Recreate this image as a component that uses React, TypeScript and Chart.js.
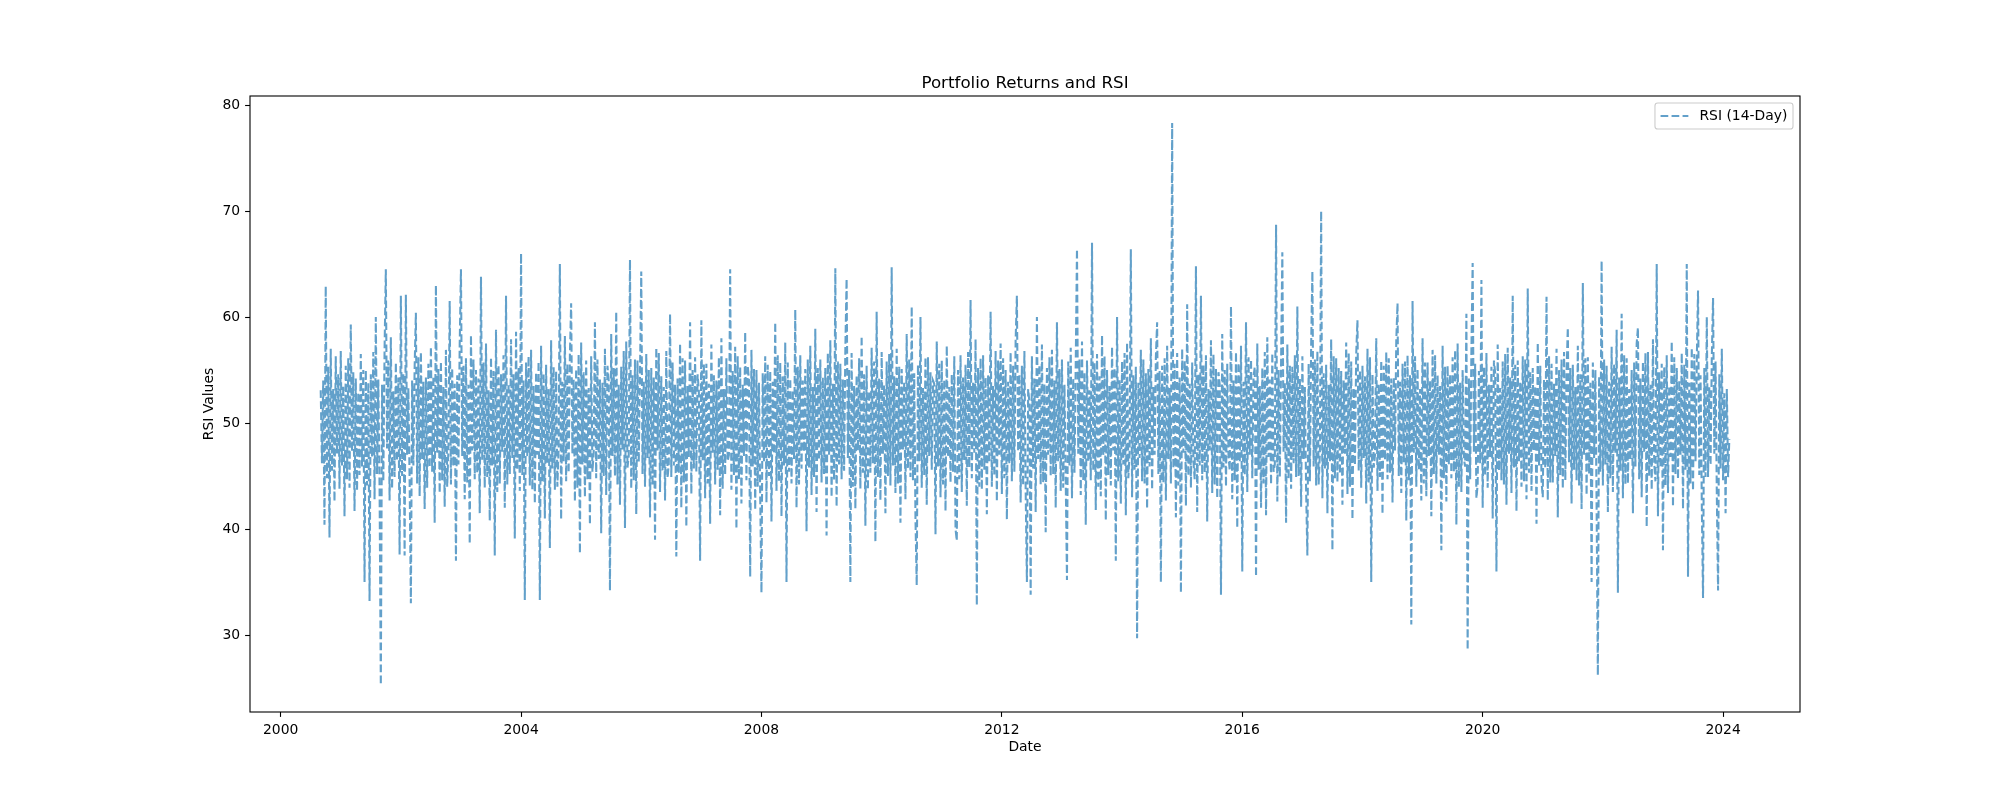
import { useEffect, useRef } from "react"
import { Chart, registerables } from "chart.js"

Chart.register(...registerables)

const chartTitle = "Portfolio Returns and RSI"
const seriesLabel = "RSI (14-Day)"
const xTitle = "Date"
const yTitle = "RSI Values"

const xTicks = [2000, 2004, 2008, 2012, 2016, 2020, 2024]
const yTicks = [30, 40, 50, 60, 70, 80]

// first reading is early Sept 2000, then about one reading per week
const startYear = 2000 + 8 / 12
const pointsPerYear = 48

const rsiValues = [
  // 2000 (Sep-Dec)
  53.1, 46.2, 54.0, 40.4, 62.9, 44.8, 55.3, 39.2, 57.0, 45.5, 53.2, 42.6, 56.3, 47.1, 54.6, 43.8,
  // 2001
  56.8, 46.0, 53.5, 41.2, 55.4, 44.7, 56.1, 43.9, 59.3, 47.3, 54.8, 41.7, 54.2, 43.6, 52.9, 45.1,
  56.5, 45.9, 55.0, 35.0, 55.0, 44.1, 53.8, 33.2, 54.6, 46.8, 56.7, 42.8, 60.0, 45.2, 54.1, 44.0,
  25.3, 53.6, 44.5, 57.0, 64.5, 47.6, 55.9, 42.7, 58.1, 43.8, 53.0, 44.9, 55.7, 46.4, 54.3, 37.6,
  // 2002
  62.0, 45.0, 54.7, 37.5, 62.1, 47.0, 53.3, 44.6, 33.0, 54.0, 46.0, 55.2, 60.4, 44.3, 56.2, 43.1,
  56.7, 46.6, 53.9, 41.9, 54.3, 43.9, 55.6, 45.8, 57.2, 45.4, 54.4, 40.6, 63.0, 47.2, 55.1, 43.4,
  55.8, 44.6, 53.4, 42.1, 56.9, 44.0, 47.5, 61.5, 44.2, 55.2, 45.9, 53.7, 37.0, 54.5, 46.1, 57.4,
  // 2003
  64.5, 46.9, 55.4, 42.8, 56.1, 44.4, 53.6, 38.6, 58.3, 47.4, 56.0, 44.7, 55.0, 45.3, 54.2, 41.5,
  63.8, 46.5, 55.7, 43.9, 57.5, 44.9, 53.1, 40.8, 56.2, 46.0, 54.9, 37.5, 58.8, 43.5, 55.5, 44.3,
  54.6, 47.3, 56.4, 42.0, 62.0, 44.2, 53.7, 45.2, 57.9, 46.7, 54.6, 39.1, 58.6, 45.6, 55.2, 43.6,
  // 2004
  66.0, 45.1, 54.0, 33.3, 55.7, 46.8, 56.3, 44.1, 56.9, 43.7, 53.5, 42.4, 54.8, 47.0, 55.8, 33.3,
  57.3, 44.5, 54.7, 41.0, 55.5, 46.2, 53.2, 38.2, 57.8, 45.7, 55.3, 43.7, 54.9, 44.0, 47.6, 65.0,
  40.9, 53.9, 46.4, 58.2, 44.5, 55.6, 45.3, 56.4, 61.3, 47.1, 54.1, 42.6, 55.1, 43.9, 56.5, 37.7,
  // 2005
  57.6, 46.1, 54.8, 43.0, 55.9, 44.7, 53.3, 40.4, 56.3, 45.4, 47.2, 59.5, 44.8, 56.0, 46.6, 54.1,
  39.6, 53.8, 45.0, 57.0, 43.2, 55.4, 54.0, 34.2, 58.4, 46.9, 55.2, 45.0, 60.5, 44.2, 53.6, 42.3,
  55.3, 47.5, 56.8, 40.1, 57.7, 45.8, 46.9, 65.4, 43.8, 54.5, 44.6, 56.0, 41.4, 55.9, 46.3, 54.7,
  // 2006
  64.3, 45.2, 53.9, 44.0, 56.5, 46.7, 55.0, 41.1, 55.2, 44.1, 54.3, 39.0, 57.1, 47.4, 56.6, 43.5,
  54.4, 45.5, 53.4, 42.7, 56.8, 44.8, 46.2, 60.3, 44.9, 55.7, 46.0, 53.6, 37.4, 54.2, 45.3, 57.5,
  42.0, 56.1, 44.4, 55.9, 40.2, 53.5, 46.8, 59.5, 43.3, 55.0, 45.7, 56.2, 45.4, 54.6, 53.0, 37.0,
  // 2007
  59.7, 46.5, 55.6, 42.9, 55.6, 44.3, 53.7, 40.5, 57.4, 47.2, 54.5, 44.2, 54.0, 45.6, 56.2, 41.3,
  58.0, 43.8, 53.2, 45.1, 56.1, 46.4, 47.0, 64.5, 43.7, 54.9, 45.1, 57.2, 40.0, 56.3, 44.7, 55.3,
  42.4, 53.6, 46.9, 58.6, 44.6, 55.4, 54.1, 35.5, 56.9, 45.9, 55.1, 41.8, 55.0, 44.0, 53.8, 43.1,
  // 2008
  34.0, 54.7, 46.3, 56.3, 42.5, 55.5, 45.0, 54.9, 40.7, 53.9, 47.1, 59.5, 43.6, 56.4, 44.5, 55.7,
  41.2, 54.4, 46.0, 57.6, 35.0, 55.7, 45.4, 54.2, 44.3, 53.1, 46.6, 60.7, 42.0, 55.3, 44.2, 56.4,
  45.7, 54.0, 47.3, 55.1, 39.8, 56.0, 45.8, 57.3, 43.2, 53.4, 44.9, 58.9, 41.6, 55.2, 46.5, 56.0,
  // 2009
  44.4, 54.3, 45.2, 55.2, 39.4, 56.6, 47.0, 57.8, 43.0, 53.7, 44.6, 64.6, 42.1, 55.8, 46.1, 55.6,
  44.7, 54.1, 45.5, 57.0, 63.6, 46.7, 55.0, 35.0, 56.6, 44.0, 53.5, 41.9, 54.5, 47.4, 56.1, 43.8,
  58.2, 45.3, 54.6, 40.3, 55.4, 43.7, 53.0, 45.3, 57.1, 46.2, 55.8, 38.8, 60.5, 44.9, 54.2, 42.7,
  // 2010
  56.7, 47.1, 53.6, 41.5, 55.8, 45.0, 56.5, 44.1, 64.7, 46.0, 54.4, 43.4, 57.0, 44.3, 55.3, 40.6,
  55.1, 47.5, 53.9, 42.8, 58.4, 45.7, 56.0, 44.9, 61.0, 44.6, 54.7, 41.0, 34.7, 55.5, 46.4, 60.0,
  43.9, 53.3, 45.1, 56.2, 42.3, 56.2, 46.9, 54.8, 45.6, 54.0, 53.7, 39.5, 57.7, 45.9, 55.6, 43.0,
  // 2011
  55.9, 44.2, 54.1, 41.7, 57.3, 46.8, 53.4, 44.4, 54.6, 45.4, 56.3, 40.0, 38.9, 55.0, 44.7, 56.4,
  43.5, 54.3, 46.5, 55.5, 42.2, 56.7, 45.8, 61.6, 44.8, 53.8, 47.2, 57.9, 32.8, 55.2, 44.0, 56.1,
  43.7, 56.4, 45.6, 54.3, 41.4, 54.5, 46.3, 60.5, 44.0, 53.5, 45.0, 56.8, 42.6, 55.9, 47.0, 57.5,
  // 2012
  43.3, 56.1, 44.8, 55.0, 40.9, 53.9, 46.2, 56.7, 44.5, 55.4, 45.4, 57.8, 62.0, 47.3, 54.6, 42.5,
  55.4, 44.1, 56.8, 43.8, 35.0, 53.2, 52.0, 33.8, 56.3, 45.7, 54.2, 41.6, 60.0, 46.6, 55.5, 44.2,
  57.4, 44.4, 53.7, 39.7, 55.2, 47.0, 56.2, 45.0, 56.9, 45.2, 54.0, 42.0, 59.5, 46.4, 55.1, 43.6,
  // 2013
  56.0, 43.9, 53.6, 44.7, 35.2, 55.8, 46.0, 57.1, 42.9, 54.2, 45.3, 55.6, 66.4, 47.1, 56.0, 43.2,
  57.7, 44.6, 54.8, 40.4, 55.9, 46.3, 53.1, 44.6, 67.0, 45.5, 55.7, 41.8, 56.5, 44.0, 54.4, 43.1,
  58.3, 46.9, 56.3, 40.8, 55.0, 45.1, 53.5, 44.1, 57.2, 47.4, 55.2, 37.0, 60.0, 44.5, 54.1, 42.4,
  // 2014
  55.8, 46.1, 56.6, 41.3, 57.6, 44.8, 47.1, 66.4, 43.0, 54.5, 45.6, 55.3, 29.7, 53.8, 46.7, 56.9,
  44.5, 56.0, 44.3, 54.7, 41.9, 55.1, 45.9, 58.0, 43.7, 53.4, 47.0, 56.2, 59.5, 45.2, 54.9, 35.0,
  55.4, 44.4, 56.1, 42.7, 57.3, 46.6, 53.3, 44.3, 78.3, 45.7, 55.6, 41.1, 56.6, 44.1, 54.3, 34.0,
  // 2015
  57.0, 47.2, 55.9, 42.2, 61.2, 45.0, 53.7, 43.9, 55.7, 46.4, 44.7, 64.8, 41.6, 54.6, 46.0, 62.0,
  44.6, 55.5, 45.3, 56.4, 40.7, 53.2, 47.4, 57.8, 43.4, 56.5, 44.2, 55.1, 42.9, 54.8, 53.6, 33.8,
  58.4, 45.8, 55.0, 44.0, 55.6, 46.9, 45.5, 61.0, 42.8, 54.0, 44.6, 56.7, 40.1, 55.7, 46.3, 57.3,
  // 2016
  36.0, 53.9, 45.1, 59.5, 43.5, 56.2, 47.0, 56.0, 44.8, 54.4, 55.3, 35.5, 57.5, 45.6, 53.5, 42.0,
  55.2, 44.3, 56.7, 41.3, 58.1, 46.8, 54.1, 44.2, 56.6, 45.4, 46.1, 68.7, 42.6, 55.0, 44.9, 55.7,
  66.1, 47.3, 53.8, 40.6, 57.4, 44.7, 55.4, 43.8, 55.3, 46.2, 56.4, 44.9, 61.0, 45.0, 54.2, 42.1,
  // 2017
  56.3, 46.6, 53.4, 43.7, 37.5, 55.6, 44.5, 57.2, 64.3, 45.9, 56.0, 44.1, 56.8, 44.2, 47.2, 70.0,
  42.9, 54.7, 45.7, 55.5, 41.5, 53.6, 46.4, 57.9, 38.0, 56.3, 44.8, 56.1, 44.4, 55.2, 45.2, 54.9,
  42.3, 54.0, 47.1, 57.6, 43.3, 56.6, 44.0, 55.8, 40.9, 53.3, 46.0, 56.5, 59.7, 45.5, 55.0, 43.9,
  // 2018
  55.4, 46.7, 54.4, 42.4, 57.0, 44.4, 56.2, 35.0, 54.6, 45.8, 47.0, 58.0, 43.6, 53.7, 44.9, 55.9,
  41.4, 55.4, 46.5, 56.7, 44.7, 56.1, 45.3, 54.2, 42.5, 54.3, 47.4, 57.8, 61.3, 45.0, 53.9, 43.4,
  55.6, 46.3, 55.8, 40.8, 56.4, 44.6, 54.5, 31.0, 61.5, 47.2, 56.3, 44.0, 55.1, 45.6, 53.2, 42.7,
  // 2019
  58.0, 44.3, 55.7, 43.1, 55.7, 46.9, 54.0, 41.2, 56.9, 45.2, 56.4, 44.3, 54.5, 47.0, 53.5, 38.0,
  57.3, 44.8, 55.3, 42.6, 55.4, 46.1, 54.6, 44.8, 56.2, 45.4, 56.9, 40.4, 57.5, 44.0, 53.8, 43.5,
  55.0, 46.6, 45.9, 60.3, 28.6, 54.2, 44.7, 56.8, 65.1, 47.3, 55.6, 42.9, 44.2, 54.9, 46.2, 63.5,
  // 2020
  42.0, 55.3, 45.0, 56.6, 43.9, 53.6, 46.8, 55.3, 41.0, 55.9, 54.7, 36.0, 57.4, 45.5, 53.3, 44.6,
  55.8, 44.2, 56.5, 42.3, 57.1, 47.1, 54.3, 43.4, 62.0, 45.8, 55.5, 41.7, 55.9, 46.4, 53.9, 44.0,
  56.3, 44.5, 56.0, 42.8, 62.7, 45.3, 54.8, 43.6, 55.2, 47.4, 53.5, 40.5, 57.6, 46.0, 55.4, 44.5,
  // 2021
  43.0, 54.1, 45.7, 61.9, 42.7, 56.3, 44.4, 55.6, 44.4, 53.7, 46.9, 57.0, 41.1, 55.0, 45.1, 56.0,
  43.8, 56.7, 44.6, 54.8, 59.0, 46.3, 55.2, 42.4, 55.5, 45.6, 53.4, 44.6, 57.3, 44.1, 54.6, 41.9,
  63.2, 47.0, 56.1, 43.2, 56.2, 45.2, 53.8, 35.0, 55.7, 46.7, 55.0, 42.2, 26.2, 54.4, 45.4, 65.3,
  // 2022
  44.1, 56.0, 46.1, 55.4, 41.6, 53.9, 44.8, 57.2, 43.5, 55.6, 47.2, 58.8, 34.0, 54.3, 45.5, 60.3,
  42.9, 56.4, 44.2, 56.1, 44.3, 53.2, 46.5, 55.0, 41.5, 55.7, 45.9, 57.5, 59.0, 44.7, 54.2, 43.0,
  55.8, 47.3, 56.6, 40.2, 56.7, 45.0, 53.6, 43.7, 57.9, 46.2, 44.5, 65.0, 41.2, 54.8, 45.8, 55.6,
  // 2023
  38.0, 55.3, 44.1, 56.4, 43.4, 53.5, 46.8, 57.7, 42.1, 56.2, 45.2, 55.2, 44.7, 54.0, 47.0, 56.6,
  41.9, 55.5, 45.6, 65.0, 35.5, 53.8, 44.3, 57.1, 43.6, 56.5, 46.4, 55.9, 62.5, 45.1, 54.5, 42.5,
  33.5, 55.2, 44.9, 60.0, 44.9, 53.4, 46.0, 56.2, 61.8, 47.1, 55.8, 43.3, 34.2, 54.6, 45.7, 57.0,
  // 2024 (Jan)
  44.6, 52.8, 41.5, 53.2, 44.9, 48.5,
]

const lineColor = "rgba(31, 119, 180, 0.7)"
const lineDash = [7.7, 3.3]
const font = { family: "DejaVu Sans", size: 13.9 }

// matplotlib-ish frame, title and legend drawn on top of the plot
const decorPlugin = {
  id: "decor",
  afterDraw(chart: any) {
    const { ctx, chartArea: a } = chart
    ctx.save()
    ctx.strokeStyle = "#000"
    ctx.lineWidth = 1.1
    ctx.strokeRect(a.left, a.top, a.right - a.left, a.bottom - a.top)

    ctx.fillStyle = "#000"
    ctx.font = '16.7px "DejaVu Sans"'
    ctx.textAlign = "center"
    ctx.textBaseline = "alphabetic"
    ctx.fillText(chartTitle, (a.left + a.right) / 2, a.top - 8.3)

    // legend
    ctx.font = '13.9px "DejaVu Sans"'
    const textW = ctx.measureText(seriesLabel).width
    const boxRight = a.right - 7
    const boxTop = a.top + 7
    const textRight = boxRight - 5.6
    const textLeft = textRight - textW
    const handleRight = textLeft - 11.1
    const handleLeft = handleRight - 27.8
    const boxLeft = handleLeft - 5.6
    const boxH = 26
    const midY = boxTop + boxH / 2

    ctx.beginPath()
    ctx.roundRect(boxLeft, boxTop, boxRight - boxLeft, boxH, 2.8)
    ctx.fillStyle = "rgba(255, 255, 255, 0.8)"
    ctx.fill()
    ctx.strokeStyle = "#cccccc"
    ctx.lineWidth = 1.1
    ctx.stroke()

    ctx.beginPath()
    ctx.setLineDash(lineDash)
    ctx.strokeStyle = lineColor
    ctx.lineWidth = 2.08
    ctx.moveTo(handleLeft, midY)
    ctx.lineTo(handleRight, midY)
    ctx.stroke()
    ctx.setLineDash([])

    ctx.fillStyle = "#000"
    ctx.textAlign = "left"
    ctx.textBaseline = "middle"
    ctx.fillText(seriesLabel, textLeft, midY)
    ctx.restore()
  },
}

export default function App() {
  const canvasRef = useRef<HTMLCanvasElement>(null)
  const chartRef = useRef<Chart | null>(null)

  useEffect(() => {
    document.body.style.margin = "0"
    if (!canvasRef.current) return
    if (chartRef.current) chartRef.current.destroy()

    const points = rsiValues.map((v, i) => ({ x: startYear + i / pointsPerYear, y: v }))

    chartRef.current = new Chart(canvasRef.current, {
      type: "line",
      data: {
        datasets: [
          {
            label: seriesLabel,
            data: points,
            borderColor: lineColor,
            borderWidth: 2.08,
            borderDash: lineDash,
            pointRadius: 0,
            tension: 0,
            fill: false,
          },
        ],
      },
      options: {
        responsive: false,
        devicePixelRatio: 1,
        animation: false,
        events: [],
        layout: { padding: { top: 96, right: 200, left: 0, bottom: 0 } },
        plugins: {
          legend: { display: false },
          title: { display: false },
          tooltip: { enabled: false },
        },
        scales: {
          x: {
            type: "linear",
            min: 1999.49,
            max: 2025.28,
            afterBuildTicks: (s: any) => {
              s.ticks = xTicks.map((v) => ({ value: v }))
            },
            afterFit: (s: any) => {
              s.height = 88
            },
            ticks: {
              font,
              color: "#000",
              padding: 4.9,
              maxRotation: 0,
              autoSkip: false,
              callback: (v: any) => String(v),
            },
            grid: {
              drawOnChartArea: false,
              drawTicks: true,
              tickLength: 4.9,
              tickWidth: 1.1,
              tickColor: "#000",
            },
            border: { display: false },
            title: {
              display: true,
              text: xTitle,
              font,
              color: "#000",
              padding: { top: 0, bottom: 44.7 },
            },
          },
          y: {
            type: "linear",
            min: 22.74,
            max: 80.85,
            afterBuildTicks: (s: any) => {
              s.ticks = yTicks.map((v) => ({ value: v }))
            },
            afterFit: (s: any) => {
              s.width = 250
            },
            ticks: {
              font,
              color: "#000",
              padding: 4.9,
              callback: (v: any) => String(v),
            },
            grid: {
              drawOnChartArea: false,
              drawTicks: true,
              tickLength: 4.9,
              tickWidth: 1.1,
              tickColor: "#000",
            },
            border: { display: false },
            title: {
              display: true,
              text: yTitle,
              font,
              color: "#000",
              padding: { top: 200.7, bottom: 0 },
            },
          },
        },
      },
      plugins: [decorPlugin],
    })

    return () => {
      if (chartRef.current) {
        chartRef.current.destroy()
        chartRef.current = null
      }
    }
  }, [])

  return <canvas ref={canvasRef} width={2000} height={800} style={{ display: "block" }} />
}
